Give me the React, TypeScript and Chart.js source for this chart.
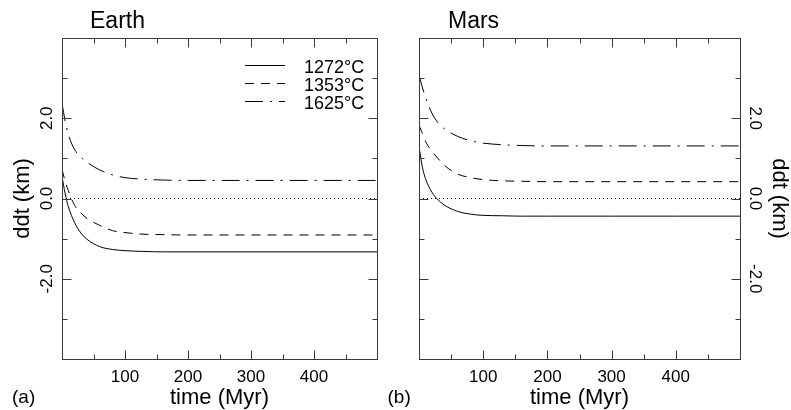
import React, { useEffect, useRef } from "react";
import { Chart, registerables } from "chart.js";

Chart.register(...registerables);

// ---- data ----
const times = [0, 5, 10, 20, 30, 40, 60, 80, 100, 130, 160, 200, 300, 400, 500];
const earth1272 = [0.55, 0.12, -0.2, -0.6, -0.86, -1.02, -1.2, -1.27, -1.3, -1.32, -1.33, -1.33, -1.33, -1.33, -1.33];
const earth1353 = [0.73, 0.43, 0.2, -0.17, -0.36, -0.5, -0.67, -0.8, -0.85, -0.89, -0.9, -0.91, -0.91, -0.91, -0.91];
const earth1625 = [2.37, 1.93, 1.6, 1.22, 1.03, 0.9, 0.71, 0.59, 0.52, 0.48, 0.46, 0.45, 0.45, 0.45, 0.45];
const mars1272 = [1.3, 0.8, 0.5, 0.16, -0.04, -0.17, -0.32, -0.39, -0.42, -0.43, -0.44, -0.44, -0.44, -0.44, -0.44];
const mars1353 = [1.82, 1.64, 1.43, 1.18, 0.99, 0.82, 0.61, 0.52, 0.47, 0.44, 0.43, 0.42, 0.42, 0.42, 0.42];
const mars1625 = [3.08, 2.78, 2.53, 2.13, 1.88, 1.73, 1.55, 1.44, 1.38, 1.34, 1.32, 1.31, 1.31, 1.31, 1.31];
const seriesLabels = ["1272°C", "1353°C", "1625°C"];
const zeroLineX = [0, 500];
const zeroLineY = [0, 0];
const xTickLabels = [100, 200, 300, 400];
const yTickLabels = [-2, 0, 2];

const FONT = '"Liberation Sans", Arial, Helvetica, sans-serif';
const DASHES: number[][] = [[], [9, 7], [18, 7, 2, 7]];

function toPoints(xs: number[], ys: number[]) {
  return xs.map((x, i) => ({ x, y: ys[i] }));
}

function makeDatasets(series: number[][]) {
  const ds: any[] = series.map((s, i) => ({
    label: seriesLabels[i],
    data: toPoints(times, s),
    borderColor: "#000",
    borderWidth: 1,
    borderDash: DASHES[i],
    pointRadius: 0,
    cubicInterpolationMode: "monotone",
    fill: false,
  }));
  ds.push({
    label: "zero",
    data: toPoints(zeroLineX, zeroLineY),
    borderColor: "#000",
    borderWidth: 1,
    borderDash: [1, 3],
    pointRadius: 0,
    fill: false,
  });
  return ds;
}

function decorPlugin(o: { title: string; titleX: number; letter: string; letterX: number; legend: boolean }) {
  return {
    id: "decor",
    afterDraw(chart: any) {
      const { ctx, chartArea: a, scales } = chart;
      const xs = scales.x;
      const ys = scales.y;
      const L = Math.round(a.left) + 0.5;
      const R = Math.round(a.right) + 0.5;
      const T = Math.round(a.top) + 0.5;
      const B = Math.round(a.bottom) + 0.5;
      ctx.save();
      ctx.strokeStyle = "#3a3a3a";
      ctx.lineWidth = 1;
      ctx.setLineDash([]);
      ctx.strokeRect(L, T, R - L, B - T);
      ctx.beginPath();
      for (const t of xs.ticks) {
        if (t.value <= xs.min || t.value >= xs.max) continue;
        const px = Math.round(xs.getPixelForValue(t.value)) + 0.5;
        const len = t.value % 100 === 0 ? 9 : 5;
        ctx.moveTo(px, B);
        ctx.lineTo(px, B - len);
        ctx.moveTo(px, T);
        ctx.lineTo(px, T + len);
      }
      for (const t of ys.ticks) {
        if (t.value <= ys.min || t.value >= ys.max) continue;
        const py = Math.round(ys.getPixelForValue(t.value)) + 0.5;
        const len = t.value % 2 === 0 ? 9 : 5;
        ctx.moveTo(L, py);
        ctx.lineTo(L + len, py);
        ctx.moveTo(R, py);
        ctx.lineTo(R - len, py);
      }
      ctx.stroke();

      ctx.fillStyle = "#000";
      ctx.textAlign = "left";
      ctx.textBaseline = "alphabetic";
      ctx.font = `23px ${FONT}`;
      ctx.fillText(o.title, o.titleX, 28);
      ctx.font = `19px ${FONT}`;
      ctx.fillText(o.letter, o.letterX, 403);

      if (o.legend) {
        ctx.font = `18px ${FONT}`;
        const dsets = chart.data.datasets;
        for (let i = 0; i < seriesLabels.length; i++) {
          const y = 65 + i * 18;
          ctx.beginPath();
          ctx.strokeStyle = "#000";
          ctx.setLineDash(dsets[i].borderDash || []);
          ctx.moveTo(245, y + 0.5);
          ctx.lineTo(285, y + 0.5);
          ctx.stroke();
          ctx.fillText(dsets[i].label, 304, y + 7.5);
        }
      }
      ctx.restore();
    },
  };
}

function makeOptions(side: "left" | "right") {
  const isLeft = side === "left";
  return {
    responsive: false,
    animation: false as const,
    events: [],
    layout: {
      padding: isLeft ? { left: 0, top: 38, right: 3, bottom: 0 } : { left: 34, top: 38, right: 0, bottom: 0 },
    },
    plugins: {
      legend: { display: false },
      tooltip: { enabled: false },
      title: { display: false },
    },
    scales: {
      x: {
        type: "linear" as const,
        position: "bottom" as const,
        min: 0,
        max: 500,
        grid: { display: false, drawTicks: false },
        border: { display: false },
        ticks: {
          stepSize: 50,
          autoSkip: false,
          maxRotation: 0,
          minRotation: 0,
          padding: 8,
          color: "#000",
          font: { family: FONT, size: 17 },
          callback: (v: any) => (xTickLabels.includes(Number(v)) ? String(v) : ""),
        },
        title: {
          display: true,
          text: "time (Myr)",
          color: "#000",
          font: { family: FONT, size: 22, lineHeight: 1 },
          padding: { top: 0, bottom: 0.6 },
        },
        afterFit: (s: any) => {
          s.height = 51;
        },
      },
      y: {
        type: "linear" as const,
        position: side,
        min: -4,
        max: 4,
        grid: { display: false, drawTicks: false },
        border: { display: false },
        ticks: {
          stepSize: 1,
          autoSkip: false,
          minRotation: isLeft ? 90 : -90,
          maxRotation: isLeft ? 90 : -90,
          crossAlign: "center" as const,
          padding: 0,
          color: "#000",
          font: { family: FONT, size: 17 },
          callback: (v: any) => (yTickLabels.includes(Number(v)) ? Number(v).toFixed(1) : ""),
        },
        title: {
          display: true,
          text: "ddt (km)",
          color: "#000",
          font: { family: FONT, size: 22, lineHeight: 1 },
          padding: isLeft ? { top: 11.9, bottom: 0 } : { top: 0.7, bottom: 0 },
        },
        afterFit: (s: any) => {
          s.width = isLeft ? 62 : 51;
        },
      },
    },
  };
}

function Panel(props: {
  side: "left" | "right";
  left: number;
  width: number;
  series: number[][];
  title: string;
  titleX: number;
  letter: string;
  letterX: number;
  legend: boolean;
}) {
  const ref = useRef<HTMLCanvasElement>(null);
  useEffect(() => {
    const chart = new Chart(ref.current as HTMLCanvasElement, {
      type: "line",
      data: { datasets: makeDatasets(props.series) },
      options: makeOptions(props.side) as any,
      plugins: [
        decorPlugin({
          title: props.title,
          titleX: props.titleX,
          letter: props.letter,
          letterX: props.letterX,
          legend: props.legend,
        }),
      ],
    });
    return () => chart.destroy();
  }, []);
  return (
    <canvas
      ref={ref}
      width={props.width}
      height={410}
      style={{ position: "absolute", left: props.left, top: 0, width: props.width, height: 410, display: "block" }}
    />
  );
}

export default function App() {
  return (
    <div style={{ position: "fixed", left: 0, top: 0, width: 791, height: 410, background: "#fff", overflow: "hidden" }}>
      <Panel
        side="left"
        left={0}
        width={385}
        series={[earth1272, earth1353, earth1625]}
        title="Earth"
        titleX={90}
        letter="(a)"
        letterX={12}
        legend={true}
      />
      <Panel
        side="right"
        left={385}
        width={406}
        series={[mars1272, mars1353, mars1625]}
        title="Mars"
        titleX={63}
        letter="(b)"
        letterX={2.5}
        legend={false}
      />
    </div>
  );
}
